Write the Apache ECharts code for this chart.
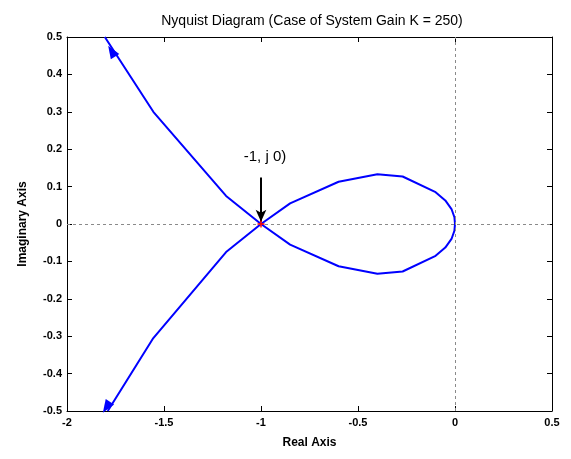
<!DOCTYPE html>
<html>
<head>
<meta charset="utf-8">
<script src="https://cdn.jsdelivr.net/npm/echarts@6/dist/echarts.min.js"></script>
<style>
  html, body { margin: 0; padding: 0; background: #fff; }
  #chart { width: 571px; height: 459px; }
</style>
</head>
<body>
<div id="chart"></div>
<script>
// Nyquist locus, traced as one polyline: upper-left branch -> (-1, j0) -> lower loop
// -> origin -> upper loop -> (-1, j0) -> lower-left branch
const realPart = [-1.805, -1.555, -1.18, -1.0, -0.85, -0.6, -0.4, -0.27, -0.1, -0.05, -0.018, -0.003, 0.0,
                  -0.003, -0.018, -0.05, -0.1, -0.27, -0.4, -0.6, -0.85, -1.0, -1.18, -1.555, -1.79];
const imagPart = [0.5, 0.3, 0.075, 0.0, -0.055, -0.113, -0.133, -0.127, -0.085, -0.063, -0.04, -0.018, 0.0,
                  0.018, 0.04, 0.063, 0.085, 0.127, 0.133, 0.113, 0.055, 0.0, -0.075, -0.305, -0.5];

// direction arrows on the two open branches: [re, im, rotation in degrees]
const arrowMarks = [[-1.77, 0.462, 32], [-1.797, -0.49, 147]];

// critical point and its annotation
const criticalPoint = [-1, 0];
const criticalText = '-1, j 0)';
const pointerStart = [-1, 0.124];
const pointerEnd = [-1, 0.006];
const textAnchor = [-1, 0.18];

const xTicks = [-2, -1.5, -1, -0.5, 0, 0.5];
const yTicks = [0.5, 0.4, 0.3, 0.2, 0.1, 0, -0.1, -0.2, -0.3, -0.4, -0.5];

const locus = realPart.map((re, i) => [re, imagPart[i]]);

const tickFont = { fontFamily: 'Liberation Sans, Arial, sans-serif', fontWeight: 'bold', fontSize: 11, color: '#000' };
const axisLine = { show: true, onZero: false, lineStyle: { color: '#000', width: 1 } };

const chart = echarts.init(document.getElementById('chart'), null, { renderer: 'canvas' });

chart.setOption({
  animation: false,
  backgroundColor: '#fff',
  title: {
    text: 'Nyquist Diagram (Case of System Gain K = 250)',
    left: 307, top: 9, textAlign: 'center',
    textStyle: { fontFamily: 'Liberation Sans, Arial, sans-serif', fontWeight: 'normal', fontSize: 14, color: '#000' }
  },
  grid: { left: 67, top: 37, right: 19, bottom: 48, containLabel: false },
  xAxis: [
    {
      type: 'value', min: -2, max: 0.5, interval: 0.5, position: 'bottom',
      name: 'Real Axis', nameLocation: 'middle', nameGap: 26,
      nameTextStyle: { fontFamily: 'Liberation Sans, Arial, sans-serif', fontWeight: 'bold', fontSize: 12, color: '#000' },
      axisLine: axisLine,
      axisTick: { show: true, inside: true, length: 5, lineStyle: { color: '#000' } },
      axisLabel: Object.assign({ margin: 6, formatter: v => xTicks.includes(v) ? String(v) : '' }, tickFont),
      splitLine: { show: false }
    },
    {
      type: 'value', min: -2, max: 0.5, interval: 0.5, position: 'top',
      axisLine: axisLine,
      axisTick: { show: true, inside: true, length: 5, lineStyle: { color: '#000' } },
      axisLabel: { show: false }, splitLine: { show: false }
    }
  ],
  yAxis: [
    {
      type: 'value', min: -0.5, max: 0.5, interval: 0.1, position: 'left',
      name: 'Imaginary Axis', nameLocation: 'middle', nameGap: 38, nameRotate: 90,
      nameTextStyle: { fontFamily: 'Liberation Sans, Arial, sans-serif', fontWeight: 'bold', fontSize: 12, color: '#000' },
      axisLine: axisLine,
      axisTick: { show: true, inside: true, length: 5, lineStyle: { color: '#000' } },
      axisLabel: Object.assign({ margin: 5, formatter: v => {
        const r = Math.round(v * 10) / 10;
        return yTicks.includes(r) ? String(r) : '';
      } }, tickFont),
      splitLine: { show: false }
    },
    {
      type: 'value', min: -0.5, max: 0.5, interval: 0.1, position: 'right',
      axisLine: axisLine,
      axisTick: { show: true, inside: true, length: 5, lineStyle: { color: '#000' } },
      axisLabel: { show: false }, splitLine: { show: false }
    }
  ],
  series: [
    {
      // reference lines through the origin
      type: 'line', xAxisIndex: 0, yAxisIndex: 0, silent: true, symbol: 'none', data: [],
      markLine: {
        silent: true, symbol: 'none', label: { show: false },
        lineStyle: { color: '#8a8a8a', type: [3, 3], width: 1 },
        data: [{ xAxis: 0 }, { yAxis: 0 }]
      }
    },
    {
      type: 'line', xAxisIndex: 0, yAxisIndex: 0, data: locus,
      symbol: 'none', smooth: false,
      lineStyle: { color: '#0000ff', width: 2 }
    },
    {
      type: 'scatter', xAxisIndex: 0, yAxisIndex: 0,
      data: arrowMarks.map(a => ({ value: [a[0], a[1]], symbolRotate: a[2] })),
      symbol: 'triangle', symbolSize: [10, 13],
      itemStyle: { color: '#0000ff', opacity: 1 }
    },
    {
      type: 'scatter', xAxisIndex: 0, yAxisIndex: 0, data: [criticalPoint],
      symbol: 'path://M4,0H6V4H10V6H6V10H4V6H0V4H4Z', symbolSize: 7,
      itemStyle: { color: '#ff0000', opacity: 1 }, z: 5
    },
    {
      type: 'line', xAxisIndex: 0, yAxisIndex: 0, data: [], symbol: 'none',
      markLine: {
        silent: true, symbol: ['none', 'arrow'], symbolSize: [8, 12], label: { show: false },
        lineStyle: { color: '#000', type: 'solid', width: 2 },
        data: [[{ coord: pointerStart }, { coord: pointerEnd }]]
      }
    },
    {
      type: 'scatter', xAxisIndex: 0, yAxisIndex: 0, data: [textAnchor],
      symbolSize: 0, itemStyle: { opacity: 1 },
      label: {
        show: true, position: 'inside', offset: [4, 0], formatter: criticalText,
        fontFamily: 'Liberation Sans, Arial, sans-serif', fontSize: 15, color: '#000', opacity: 1
      }
    }
  ]
});
</script>
</body>
</html>
